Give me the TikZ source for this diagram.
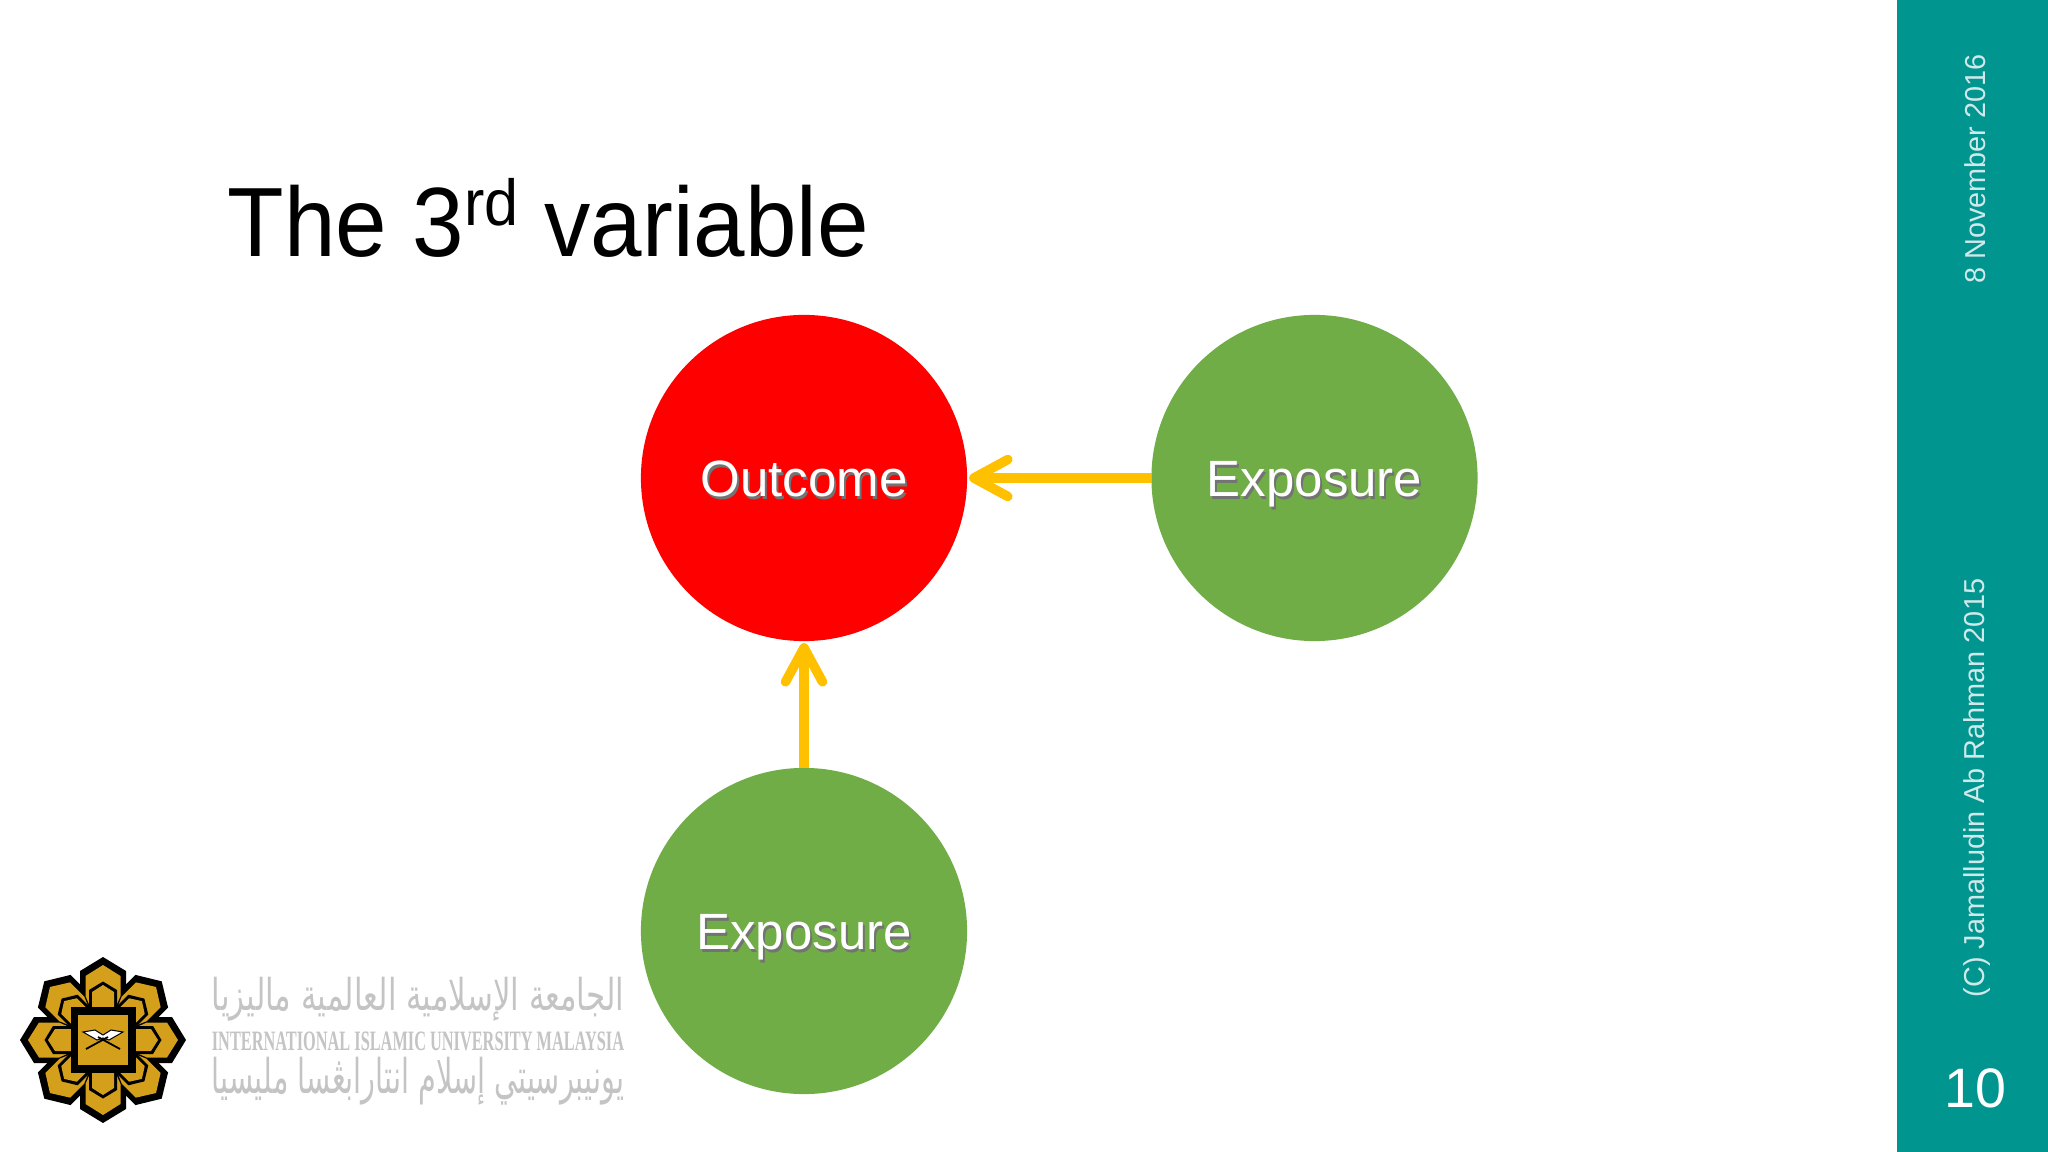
\documentclass[tikz,border=0pt]{standalone}
\usepackage{fontspec}
\usepackage{graphicx}
\setmainfont{Liberation Sans}
\newfontfamily\arabicfont[Script=Arabic]{DejaVu Sans}
\newfontfamily\serifcaps{Liberation Serif}
\TeXXeTstate=1
\usetikzlibrary{arrows.meta}
\definecolor{bandteal}{HTML}{00958E}
\definecolor{leafgreen}{HTML}{70AD47}
\definecolor{arrowgold}{HTML}{FFC000}
\definecolor{logogold}{HTML}{D49F1A}
\definecolor{logogray}{HTML}{C4C4C4}
\definecolor{sidelight}{HTML}{CFE8EA}
\newcommand{\shadowlabel}[1]{\rlap{\kern.6pt\raisebox{-.6pt}{\textcolor{black!55}{#1}}}#1}

\begin{document}
\begin{tikzpicture}[x=0.01cm,y=-0.01cm,
      varcircle/.style={circle, minimum size=3.26cm, inner sep=0pt, outer sep=0pt, text=white, text height=14pt, text depth=3.2pt, font=\fontsize{14.5}{17}\selectfont},
      effect/.style={draw=arrowgold, line width=0.095cm, shorten >=0.02cm, -{Straight Barb[round,length=0.34cm,width=0.37cm,line width=0.095cm]}},
      sidetext/.style={rotate=90, text=sidelight, font=\fontsize{8.2}{10}\selectfont},
      logoline/.style={text=logogray, inner sep=0pt, anchor=center}
      ]
      \useasboundingbox (0,0) rectangle (2048,1152);
      \fill[white] (0,0) rectangle (2048,1152);
      \fill[bandteal] (1897,0) rectangle (2048,1152);

      \node[anchor=base west, inner sep=0pt, font=\fontsize{28}{32}\selectfont] (title) at (227,257)
        {\scalebox{.94}[1]{The 3\raisebox{.32em}{\fontsize{18.5}{20}\selectfont rd} variable}};

      \node[varcircle, fill=red] (outcome) at (804,478) {\shadowlabel{Outcome}};
      \node[varcircle, fill=leafgreen] (exposureright) at (1314.5,478) {\shadowlabel{Exposure}};
      \node[varcircle, fill=leafgreen] (exposurebelow) at (804,931) {\shadowlabel{Exposure}};
      \draw[effect] (exposureright) -- (outcome);
      \draw[effect] (exposurebelow) -- (outcome);

      \node[sidetext] (datetext) at (1975,169) {8 November 2016};
      \node[sidetext] (ownertext) at (1977,788) {(C) Jamalludin Ab Rahman 2015};
      \node[text=white, font=\fontsize{15.8}{18}\selectfont] (pagenum) at (1975,1088) {10};

      % logo flower
      \begin{scope}[shift={(103,1040)},y=0.01cm]
        \foreach \a in {0,45,...,315}{
          \fill[black,rotate=\a] (0,83)--(23,69)--(23,50)--(0,0)--(-23,50)--(-23,69)--cycle;
        }
        \foreach \a in {0,45,...,315}{
          \fill[logogold,rotate=\a] (0,75)--(17.5,64)--(17.5,44)--(0,4)--(-17.5,44)--(-17.5,64)--cycle;
        }
        \foreach \a in {0,45,...,315}{
          \fill[black,rotate=\a] (0,58.5)--(14,50)--(14,30)--(-14,30)--(-14,50)--cycle;
        }
        \foreach \a in {0,45,...,315}{
          \fill[logogold,rotate=\a] (0,55)--(11,48)--(11,30)--(-11,30)--(-11,48)--cycle;
        }
        \fill[black] (-32.5,-33) rectangle (32.5,33);
        \fill[logogold] (-25,-25) rectangle (25,25);
        \fill[white,draw=black,line width=0.01cm] (-20,8)--(-8,10)--(0,5)--(8,10)--(20,8)--(6,0)--(0,2)--(-6,0)--cycle;
        \draw[black,line width=0.018cm] (-17,-9)--(5,3);
        \draw[black,line width=0.018cm] (17,-9)--(-5,3);
      \end{scope}

      % logo text
      \node[logoline] (logoarabic) at (418,999) {\resizebox*{4.12cm}{0.44cm}{\arabicfont\beginR الجامعة الإسلامية العالمية ماليزيا\endR}};
      \node[logoline] (logoenglish) at (418,1041) {\resizebox*{4.12cm}{0.19cm}{\serifcaps\bfseries INTERNATIONAL ISLAMIC UNIVERSITY MALAYSIA}};
      \node[logoline] (logojawi) at (418,1081) {\resizebox*{4.12cm}{0.48cm}{\arabicfont\beginR يونيبرسيتي إسلام انتارابڠسا مليسيا\endR}};
    \end{tikzpicture}
\end{document}
